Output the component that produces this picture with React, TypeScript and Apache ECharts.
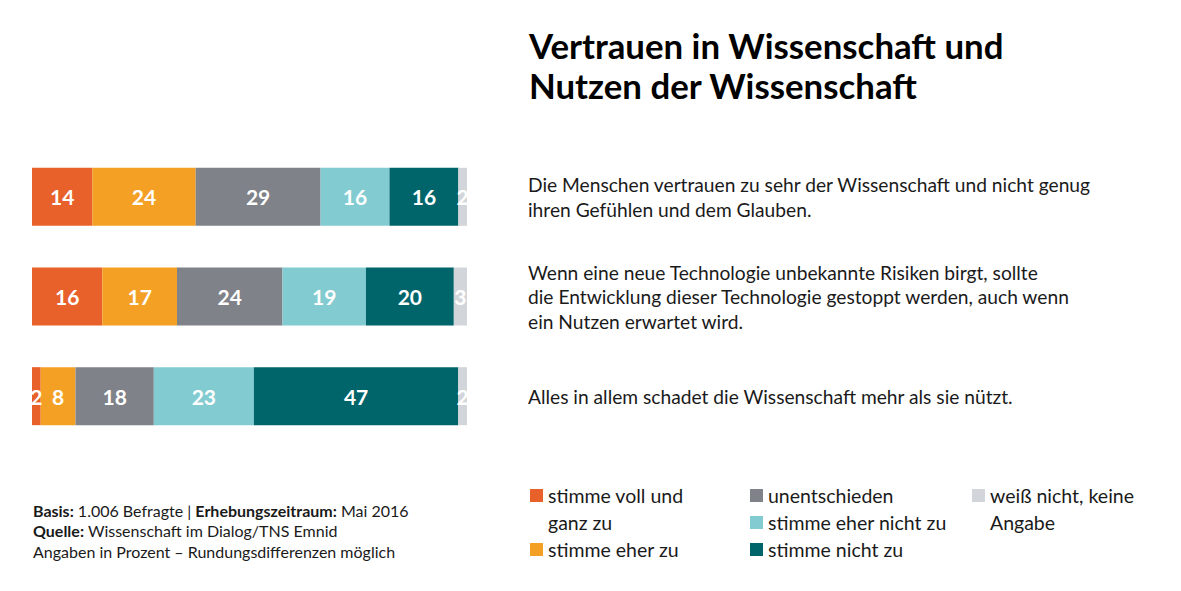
import React, { useEffect, useRef } from "react";
import * as echarts from "echarts";

const categories = [
  "Die Menschen vertrauen zu sehr der Wissenschaft und nicht genug\nihren Gefühlen und dem Glauben.",
  "Wenn eine neue Technologie unbekannte Risiken birgt, sollte\ndie Entwicklung dieser Technologie gestoppt werden, auch wenn\nein Nutzen erwartet wird.",
  "Alles in allem schadet die Wissenschaft mehr als sie nützt.",
];
const seriesNames = [
  "stimme voll und ganz zu",
  "stimme eher zu",
  "unentschieden",
  "stimme eher nicht zu",
  "stimme nicht zu",
  "weiß nicht, keine Angabe",
];
const legendLabels = [
  "stimme voll und\nganz zu",
  "stimme eher zu",
  "unentschieden",
  "stimme eher nicht zu",
  "stimme nicht zu",
  "weiß nicht, keine\nAngabe",
];
const colors = ["#E8602A", "#F4A024", "#7F8289", "#82CBD1", "#00656B", "#D2D6DA"];
const stimmeVoll = [14, 16, 2];
const stimmeEher = [24, 17, 8];
const unentschieden = [29, 24, 18];
const stimmeEherNicht = [16, 19, 23];
const stimmeNicht = [16, 20, 47];
const weissNicht = [2, 3, 2];

const title = "Vertrauen in Wissenschaft und\nNutzen der Wissenschaft";

const FONT = "Lato, 'Open Sans', sans-serif";
const TXT = "#1a1a1a";

export default function App() {
  const ref = useRef<HTMLDivElement>(null);
  useEffect(() => {
    if (!ref.current) return;
    const chart = echarts.init(ref.current, undefined, { renderer: "svg" });
    const all = [stimmeVoll, stimmeEher, unentschieden, stimmeEherNicht, stimmeNicht, weissNicht];
    const totals = categories.map((_, i) => all.reduce((s, arr) => s + arr[i], 0));

    const series = all.map((arr, si) => ({
      name: seriesNames[si],
      type: "bar",
      stack: "total",
      barWidth: 58,
      itemStyle: { color: colors[si] },
      label: {
        show: true,
        position: "inside",
        color: "#fff",
        fontFamily: FONT,
        fontWeight: "bold",
        fontSize: 21,
        formatter: (p: any) => String(arr[p.dataIndex]),
      },
      data: arr.map((v, i) => (v / totals[i]) * 100),
    }));

    const legendPos = [
      [530, 489],
      [530, 543],
      [750, 489],
      [750, 516],
      [750, 543],
      [972, 489],
    ];
    const legendEls: any[] = [];
    legendLabels.forEach((lab, i) => {
      const [x, y] = legendPos[i];
      legendEls.push({
        type: "rect",
        shape: { x, y, width: 13, height: 13 },
        style: { fill: colors[i] },
      });
      legendEls.push({
        type: "text",
        x: x + 18,
        y: y - 7,
        style: {
          text: lab,
          font: `19.5px ${FONT}`,
          fill: TXT,
          lineHeight: 27,
        },
      });
    });

    chart.setOption({
      animation: false,
      grid: { left: 32, width: 435, top: 147, height: 299, containLabel: false },
      xAxis: { type: "value", min: 0, max: 100, show: false },
      yAxis: {
        type: "category",
        data: categories,
        inverse: true,
        position: "right",
        axisLine: { show: false },
        axisTick: { show: false },
        axisLabel: {
          align: "left",
          margin: 61,
          fontFamily: FONT,
          fontSize: 19.2,
          lineHeight: 24.5,
          color: TXT,
        },
      },
      series,
      graphic: [
        {
          type: "text",
          x: 529,
          y: 25,
          style: {
            text: title,
            font: `bold 34.8px ${FONT}`,
            fill: "#000",
            lineHeight: 40,
          },
        },
        ...legendEls,
        {
          type: "text",
          x: 33,
          y: 500,
          style: {
            text:
              "{b|Basis:} 1.006 Befragte | {b|Erhebungszeitraum:} Mai 2016\n{b|Quelle:} Wissenschaft im Dialog/TNS Emnid\nAngaben in Prozent – Rundungsdifferenzen möglich",
            font: `16px ${FONT}`,
            fill: TXT,
            lineHeight: 20.5,
            rich: {
              b: { fontWeight: "bold", fontFamily: FONT, fontSize: 16, fill: TXT, lineHeight: 20.5 },
            },
          },
        },
      ],
    });
    return () => chart.dispose();
  }, []);
  return (
    <div
      ref={ref}
      style={{ position: "absolute", left: 0, top: 0, width: 1181, height: 591, background: "#fff" }}
    />
  );
}
